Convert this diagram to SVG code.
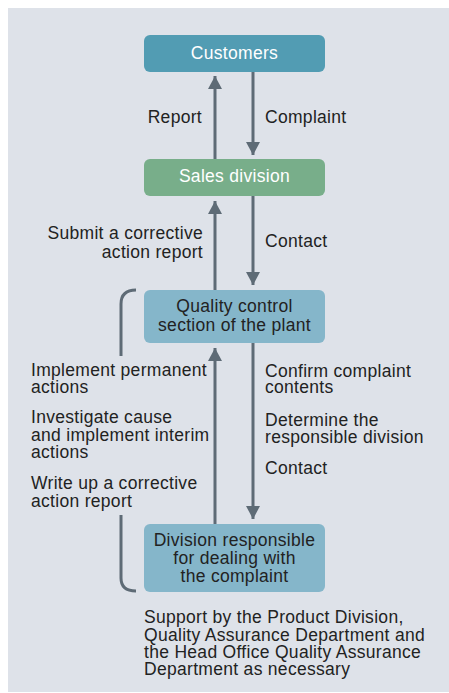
<svg xmlns="http://www.w3.org/2000/svg" width="449" height="693" viewBox="0 0 449 693">
<defs>
<style>
text{font-family:"Liberation Sans",Arial,Helvetica,sans-serif;font-size:17.5px;letter-spacing:0.3px;fill:#222;}
.w{fill:#fff;}
.c{text-anchor:middle;}
.r{text-anchor:end;}
.ln{stroke:#5e6b76;stroke-width:3;fill:none;}
</style>
<marker id="ah" viewBox="0 0 13 14" refX="13" refY="7" markerWidth="13" markerHeight="14" markerUnits="userSpaceOnUse" orient="auto">
<path d="M0,0 L13,7 L0,14 Z" fill="#5e6b76"/>
</marker>
</defs>
<rect x="0" y="0" width="449" height="693" fill="#fff"/>
<rect x="8" y="8" width="441" height="684" fill="#dee2e9"/>

<g id="connectors">
<line class="ln" x1="215" y1="159" x2="215" y2="76" marker-end="url(#ah)"/>
<line class="ln" x1="253" y1="72" x2="253" y2="155" marker-end="url(#ah)"/>
<line class="ln" x1="215" y1="290" x2="215" y2="201" marker-end="url(#ah)"/>
<line class="ln" x1="253" y1="196" x2="253" y2="285" marker-end="url(#ah)"/>
<line class="ln" x1="215" y1="524" x2="215" y2="348" marker-end="url(#ah)"/>
<line class="ln" x1="253" y1="343" x2="253" y2="519" marker-end="url(#ah)"/>
<path class="ln" d="M121,356 L121,304 Q121,290 136,290"/>
<path class="ln" d="M121,515 L121,578 Q121,591 136,591"/>
</g>

<g id="customers">
<rect x="144" y="35" width="181" height="37" rx="6" fill="#529cb3"/>
<text class="c w" x="234.5" y="59">Customers</text>
</g>
<g id="sales">
<rect x="144" y="159" width="181" height="37" rx="6" fill="#78ae8a"/>
<text class="c w" x="234.5" y="182">Sales division</text>
</g>
<g id="qc">
<rect x="144" y="290" width="181" height="53" rx="6" fill="#85b6ca"/>
<text class="c" x="234.5" y="312">Quality control</text>
<text class="c" x="234.5" y="331">section of the plant</text>
</g>
<g id="division">
<rect x="144" y="524" width="181" height="68" rx="6" fill="#85b6ca"/>
<text class="c" x="234.5" y="546">Division responsible</text>
<text class="c" x="234.5" y="564">for dealing with</text>
<text class="c" x="234.5" y="582">the complaint</text>
</g>

<g id="labels">
<text class="r" x="202" y="123">Report</text>
<text x="265" y="123">Complaint</text>
<text class="r" x="203" y="239">Submit a corrective</text>
<text class="r" x="203" y="258">action report</text>
<text x="265" y="247">Contact</text>
<text x="31" y="376">Implement permanent</text>
<text x="31" y="393">actions</text>
<text x="31" y="423">Investigate cause</text>
<text x="31" y="441">and implement interim</text>
<text x="31" y="458">actions</text>
<text x="31" y="489">Write up a corrective</text>
<text x="31" y="507">action report</text>
<text x="265" y="377">Confirm complaint</text>
<text x="265" y="393">contents</text>
<text x="265" y="426">Determine the</text>
<text x="265" y="443">responsible division</text>
<text x="265" y="474">Contact</text>
<text x="144" y="623">Support by the Product Division,</text>
<text x="144" y="641">Quality Assurance Department and</text>
<text x="144" y="658">the Head Office Quality Assurance</text>
<text x="144" y="675">Department as necessary</text>
</g>
</svg>
